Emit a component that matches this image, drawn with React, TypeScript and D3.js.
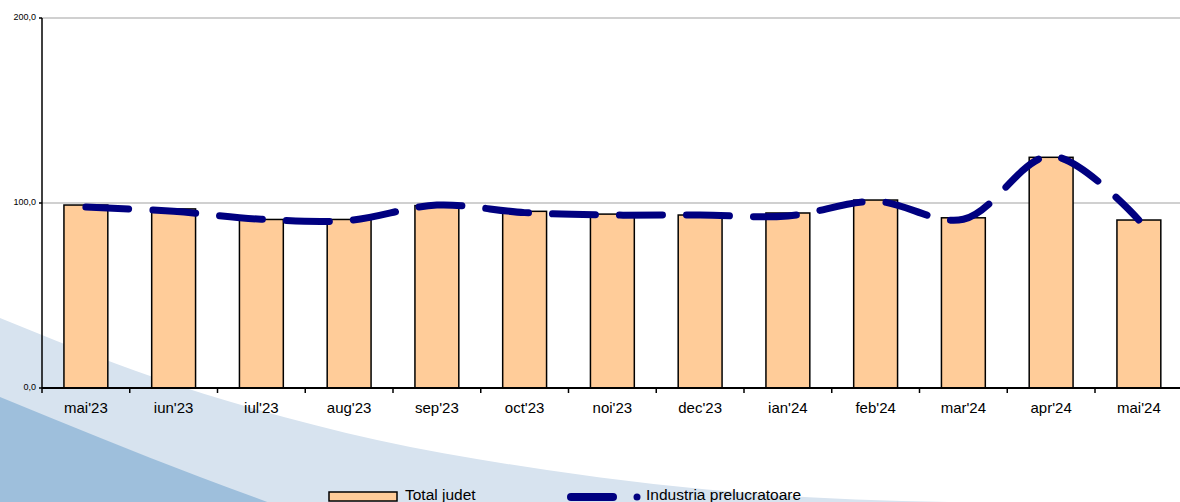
import React, { useEffect, useRef } from 'react';
import * as d3 from 'd3';

// categorii (luni)
const months = ["mai'23", "iun'23", "iul'23", "aug'23", "sep'23", "oct'23", "noi'23", "dec'23", "ian'24", "feb'24", "mar'24", "apr'24", "mai'24"];
// Total judet (bare)
const totalJudet = [98.9, 96.8, 91.1, 91.1, 98.6, 95.5, 94.0, 93.5, 94.6, 101.6, 92.0, 124.7, 90.8];
// Industria prelucratoare (linie)
const industria = [97.8, 95.5, 91.2, 90.6, 98.9, 94.8, 93.5, 93.5, 93.0, 100.9, 91.2, 125.4, 90.8];
const yTicks = [0, 100, 200];
const seriesNames = ['Total judet', 'Industria prelucratoare'];

// fundal decorativ
const lightWave: [number, number][] = [[0, 318], [153, 377], [377, 440], [547, 470], [760, 494], [1000, 503]];
const darkWave: [number, number][] = [[0, 397], [200, 477], [270, 503]];

const W = 1180;
const H = 502;

const App: React.FC = () => {
    const ref = useRef<SVGSVGElement>(null);

    useEffect(() => {
        if (!ref.current) return;
        const svg = d3.select(ref.current);
        svg.selectAll('*').remove();

        const font = '"Liberation Sans", Arial, sans-serif';
        const left = 42;
        const step = 87.75;

        // fundal
        const wave = d3.line().curve(d3.curveMonotoneX);
        svg.append('path')
            .attr('d', wave(lightWave) + `L${W},${H}L0,${H}Z`)
            .attr('fill', '#d7e3ef');
        svg.append('path')
            .attr('d', wave(darkWave) + `L0,${H}Z`)
            .attr('fill', '#9ebfdc');

        const x = d3.scaleBand<string>()
            .domain(months)
            .range([left, left + step * months.length])
            .paddingInner(0.5)
            .paddingOuter(0.25);
        const y = d3.scaleLinear().domain([0, 200]).range([388, 18]);

        // grila
        svg.append('g')
            .selectAll('line')
            .data(yTicks.filter((t) => t > 0))
            .enter()
            .append('line')
            .attr('x1', left)
            .attr('x2', W)
            .attr('y1', (d) => y(d))
            .attr('y2', (d) => y(d))
            .attr('stroke', '#c0c0c0')
            .attr('stroke-width', 1.5);

        // bare
        svg.append('g')
            .selectAll('rect')
            .data(totalJudet)
            .enter()
            .append('rect')
            .attr('x', (d, i) => x(months[i])!)
            .attr('y', (d) => y(d))
            .attr('width', x.bandwidth())
            .attr('height', (d) => y(0) - y(d))
            .attr('fill', '#ffcc99')
            .attr('stroke', '#000')
            .attr('stroke-width', 1.5);

        // axa Y
        svg.append('line')
            .attr('x1', left).attr('x2', left)
            .attr('y1', y(200)).attr('y2', y(0))
            .attr('stroke', '#000').attr('stroke-width', 1.5);
        const yt = svg.append('g').selectAll('g').data(yTicks).enter().append('g');
        yt.append('line')
            .attr('x1', left - 3).attr('x2', left)
            .attr('y1', (d) => y(d)).attr('y2', (d) => y(d))
            .attr('stroke', '#000').attr('stroke-width', 1.5);
        yt.append('text')
            .attr('x', left - 6)
            .attr('y', (d) => y(d) + 2)
            .attr('text-anchor', 'end')
            .attr('font-family', font)
            .attr('font-size', 9)
            .text((d) => d3.format('.1f')(d).replace('.', ','));

        // axa X
        svg.append('line')
            .attr('x1', left).attr('x2', W)
            .attr('y1', y(0)).attr('y2', y(0))
            .attr('stroke', '#000').attr('stroke-width', 2);
        svg.append('g')
            .selectAll('line')
            .data(months)
            .enter()
            .append('line')
            .attr('x1', (d, i) => left + i * x.step())
            .attr('x2', (d, i) => left + i * x.step())
            .attr('y1', y(0))
            .attr('y2', y(0) + 5)
            .attr('stroke', '#000')
            .attr('stroke-width', 1.5);
        svg.append('g')
            .selectAll('text')
            .data(months)
            .enter()
            .append('text')
            .attr('x', (d) => x(d)! + x.bandwidth() / 2)
            .attr('y', 413)
            .attr('text-anchor', 'middle')
            .attr('font-family', font)
            .attr('font-size', 15)
            .text((d) => d);

        // linie
        const line = d3.line<number>()
            .x((d, i) => x(months[i])! + x.bandwidth() / 2)
            .y((d) => y(d))
            .curve(d3.curveCatmullRom.alpha(0.5));
        svg.append('path')
            .datum(industria)
            .attr('d', line)
            .attr('fill', 'none')
            .attr('stroke', '#000080')
            .attr('stroke-width', 7)
            .attr('stroke-linecap', 'round')
            .attr('stroke-dasharray', '43 24');

        // legenda
        const lg = svg.append('g');
        lg.append('rect')
            .attr('x', 329).attr('y', 492)
            .attr('width', 68).attr('height', 9)
            .attr('fill', '#ffcc99')
            .attr('stroke', '#000')
            .attr('stroke-width', 1.5);
        lg.append('text')
            .attr('x', 405).attr('y', 500)
            .attr('font-family', font)
            .attr('font-size', 15.5)
            .text(seriesNames[0]);
        lg.append('line')
            .attr('x1', 571).attr('x2', 613)
            .attr('y1', 497).attr('y2', 497)
            .attr('stroke', '#000080')
            .attr('stroke-width', 8)
            .attr('stroke-linecap', 'round');
        lg.append('circle')
            .attr('cx', 637).attr('cy', 497)
            .attr('r', 3.5)
            .attr('fill', '#000080');
        lg.append('text')
            .attr('x', 646).attr('y', 500)
            .attr('font-family', font)
            .attr('font-size', 15.5)
            .text(seriesNames[1]);
    }, []);

    return (
        <svg
            ref={ref}
            width={W}
            height={H}
            style={{ position: 'absolute', left: 0, top: 0, background: '#fff' }}
        />
    );
};

export default App;
